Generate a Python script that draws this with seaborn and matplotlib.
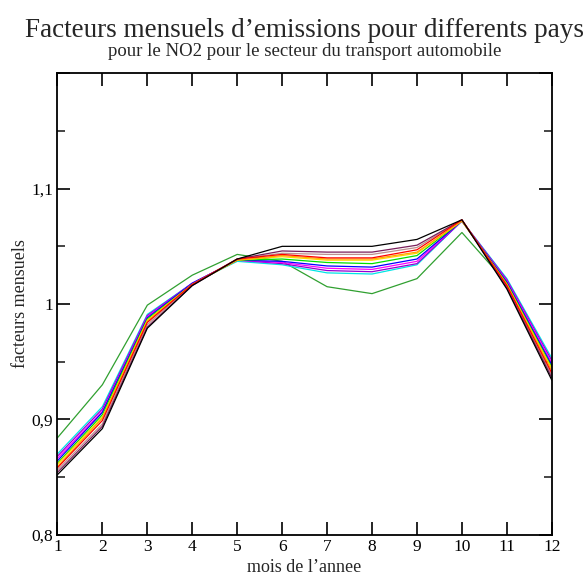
import numpy as np
import pandas as pd
import seaborn as sns
import matplotlib
matplotlib.use("Agg")
import matplotlib.pyplot as plt
from matplotlib.ticker import MultipleLocator, FuncFormatter

months = list(range(1, 13))

s_black   = [0.852, 0.892, 0.979, 1.016, 1.039, 1.050, 1.050, 1.050, 1.056, 1.073, 1.013, 0.934]
s_maroon  = [0.854, 0.894, 0.980, 1.016, 1.039, 1.046, 1.045, 1.045, 1.051, 1.073, 1.014, 0.936]
s_brown   = [0.856, 0.896, 0.982, 1.017, 1.039, 1.044, 1.043, 1.043, 1.049, 1.073, 1.015, 0.938]
s_red     = [0.858, 0.899, 0.984, 1.017, 1.039, 1.043, 1.040, 1.040, 1.047, 1.073, 1.016, 0.940]
s_orange  = [0.859, 0.901, 0.985, 1.017, 1.038, 1.042, 1.039, 1.039, 1.045, 1.072, 1.017, 0.942]
s_yellow  = [0.861, 0.902, 0.986, 1.017, 1.038, 1.041, 1.038, 1.038, 1.044, 1.072, 1.017, 0.944]
s_green   = [0.862, 0.904, 0.987, 1.017, 1.038, 1.039, 1.036, 1.035, 1.042, 1.072, 1.018, 0.945]
s_blue    = [0.864, 0.906, 0.988, 1.018, 1.038, 1.037, 1.033, 1.032, 1.039, 1.072, 1.019, 0.947]
s_magenta = [0.866, 0.907, 0.989, 1.018, 1.038, 1.036, 1.031, 1.030, 1.037, 1.072, 1.020, 0.949]
s_violet  = [0.868, 0.909, 0.990, 1.018, 1.038, 1.035, 1.029, 1.028, 1.035, 1.072, 1.021, 0.951]
s_cyan    = [0.870, 0.911, 0.991, 1.018, 1.037, 1.034, 1.027, 1.026, 1.034, 1.072, 1.022, 0.953]
s_green4  = [0.884, 0.930, 0.999, 1.025, 1.043, 1.037, 1.015, 1.009, 1.022, 1.062, 1.018, 0.945]

series = {
    "s_green4": s_green4,
    "s_cyan": s_cyan,
    "s_violet": s_violet,
    "s_magenta": s_magenta,
    "s_blue": s_blue,
    "s_green": s_green,
    "s_yellow": s_yellow,
    "s_orange": s_orange,
    "s_brown": s_brown,
    "s_maroon": s_maroon,
    "s_red": s_red,
    "s_black": s_black,
}
colors = {
    "s_black": "#000000",
    "s_maroon": "#7a1f5c",
    "s_brown": "#bc8f8f",
    "s_red": "#ff0000",
    "s_orange": "#ffa500",
    "s_yellow": "#ffd700",
    "s_green": "#00e000",
    "s_blue": "#0000ff",
    "s_magenta": "#ff00ff",
    "s_violet": "#9400d3",
    "s_cyan": "#00e5e5",
    "s_green4": "#30a030",
}

rows = []
for name, vals in series.items():
    for m, v in zip(months, vals):
        rows.append({"mois": m, "facteur": v, "serie": name})
df = pd.DataFrame(rows)

sns.set_style("ticks")
plt.rcParams["font.family"] = ["Liberation Serif", "DejaVu Serif"]

fig = plt.figure(figsize=(5.83, 5.76), dpi=100)
ax = fig.add_axes([0.0985, 0.0717, 0.848, 0.801])

sns.lineplot(data=df, x="mois", y="facteur", hue="serie", palette=colors,
             hue_order=list(series.keys()), linewidth=0.9, legend=False,
             estimator=None, sort=False, ax=ax)

ax.set_xlim(1, 12)
ax.set_ylim(0.8, 1.2)
ax.set_xticks(months)
ax.set_yticks([0.8, 0.9, 1.0, 1.1, 1.2])
ax.yaxis.set_minor_locator(MultipleLocator(0.05))

def yfmt(v, pos):
    if v > 1.15:
        return ""
    s = f"{v:.1f}".replace(".", ",")
    if s.endswith(",0"):
        s = s[:-2]
    return s
ax.yaxis.set_major_formatter(FuncFormatter(yfmt))

ax.tick_params(axis="both", which="major", direction="in", length=9.5, width=1.2,
               top=True, right=True, labelsize=12.5, pad=3, colors="black")
ax.tick_params(axis="y", which="minor", direction="in", length=5.5, width=1.2,
               left=True, right=True)
for sp in ax.spines.values():
    sp.set_linewidth(1.3)
    sp.set_color("black")

ax.set_xlabel("mois de l\u2019annee", fontsize=13, labelpad=3)
ax.set_ylabel("facteurs mensuels", fontsize=13, labelpad=2)

fig.text(0.523, 0.935, "Facteurs mensuels d\u2019emissions pour differents pays",
         ha="center", va="baseline", fontsize=19.5)
fig.text(0.523, 0.902, "pour le NO2 pour le secteur du transport automobile",
         ha="center", va="baseline", fontsize=13.5)

fig.savefig("out.png", dpi=100)
